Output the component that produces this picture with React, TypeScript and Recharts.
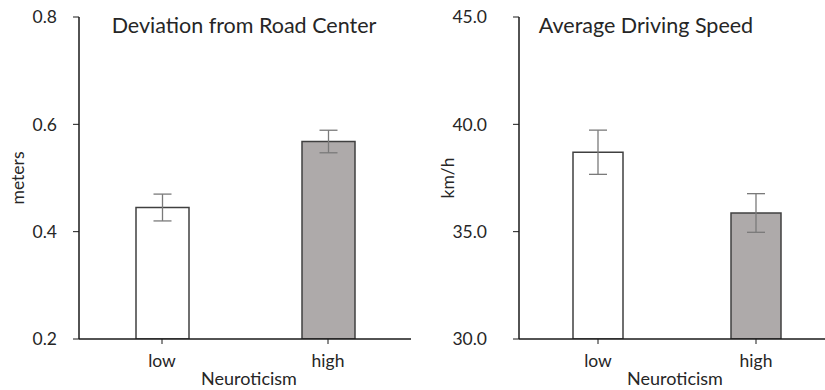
import React from 'react';
import { BarChart, Bar, XAxis, YAxis, ErrorBar, Cell, Label } from 'recharts';

const categories = ['low', 'high'];
const deviationValues = [0.445, 0.568];
const deviationErrors = [0.025, 0.021];
const speedValues = [38.7, 35.87];
const speedErrors = [1.03, 0.9];
const deviationTicks = [0.2, 0.4, 0.6, 0.8];
const speedTicks = [30, 35, 40, 45];
const barFills = ['#ffffff', '#aeaaaa'];

const deviationData = categories.map((c, i) => ({ name: c, value: deviationValues[i], err: deviationErrors[i] }));
const speedData = categories.map((c, i) => ({ name: c, value: speedValues[i], err: speedErrors[i] }));

const FONT = 'Lato, "Open Sans", sans-serif';
const TEXT = '#262626';
const AXIS = '#1a1a1a';

const yLabel = (text: string, dx: number) => (props: any) => {
  const vb = props.viewBox || {};
  const x = vb.x + dx;
  const y = vb.y + vb.height / 2;
  return (
    <text x={x} y={y} transform={`rotate(-90, ${x}, ${y})`} textAnchor="middle" dominantBaseline="central"
      fontFamily={FONT} fontSize={17.5} fill={TEXT}>{text}</text>
  );
};

const xLabel = (text: string, dx: number) => (props: any) => {
  const vb = props.viewBox || {};
  const x = vb.x + vb.width / 2 + dx;
  const y = vb.y + vb.height - 5;
  return (
    <text x={x} y={y} textAnchor="middle" fontFamily={FONT} fontSize={18} fill={TEXT}>{text}</text>
  );
};

const tickStyle = { fontFamily: FONT, fontSize: 17.5, fill: TEXT };

function Panel(props: {
  data: any[]; domain: [number, number]; ticks: number[]; yWidth: number; right: number;
  tickMargin: number; ylab: string; ylabDx: number; xlabDx: number; barSize: number;
}) {
  const { data, domain, ticks, yWidth, right, tickMargin, ylab, ylabDx, xlabDx, barSize } = props;
  return (
    <BarChart width={420} height={390} data={data} margin={{ top: 17, right, bottom: 0, left: 0 }}>
      <XAxis dataKey="name" height={51} tickSize={5} tickMargin={11} tick={tickStyle}
        axisLine={{ stroke: AXIS, strokeWidth: 1.5 }} tickLine={{ stroke: AXIS, strokeWidth: 1 }}>
        <Label content={xLabel('Neuroticism', xlabDx)} />
      </XAxis>
      <YAxis type="number" domain={domain} ticks={ticks} width={yWidth} tickSize={6} tickMargin={tickMargin}
        tick={tickStyle} tickFormatter={(v: number) => v.toFixed(1)} allowDataOverflow
        axisLine={{ stroke: AXIS, strokeWidth: 1.5 }} tickLine={{ stroke: AXIS, strokeWidth: 1 }}>
        <Label content={yLabel(ylab, ylabDx)} />
      </YAxis>
      <Bar dataKey="value" barSize={barSize} stroke="#404040" strokeWidth={1.5} isAnimationActive={false}>
        {data.map((d, i) => <Cell key={d.name} fill={barFills[i]} />)}
        <ErrorBar dataKey="err" width={9} stroke="#7a7a7a" strokeWidth={1.3} />
      </Bar>
    </BarChart>
  );
}

const titleStyle = (cx: number): React.CSSProperties => ({
  position: 'absolute', left: cx - 200, width: 400, top: 12, height: 26, lineHeight: '26px',
  textAlign: 'center', fontFamily: FONT, fontSize: 21.5, color: TEXT,
});

export default function App() {
  return (
    <div style={{ position: 'absolute', left: 0, top: 0, width: 825, height: 390, overflow: 'hidden', background: '#fff' }}>
      <div style={{ position: 'absolute', left: 0, top: 0 }}>
        <Panel data={deviationData} domain={[0.2, 0.8]} ticks={deviationTicks} yWidth={79} right={9}
          tickMargin={16} ylab="meters" ylabDx={17} xlabDx={4} barSize={53} />
      </div>
      <div style={{ position: 'absolute', left: 420, top: 0 }}>
        <Panel data={speedData} domain={[30, 45]} ticks={speedTicks} yWidth={99} right={5}
          tickMargin={26} ylab="km/h" ylabDx={27} xlabDx={-2} barSize={50} />
      </div>
      <div style={titleStyle(244)}>Deviation from Road Center</div>
      <div style={titleStyle(646)}>Average Driving Speed</div>
    </div>
  );
}
